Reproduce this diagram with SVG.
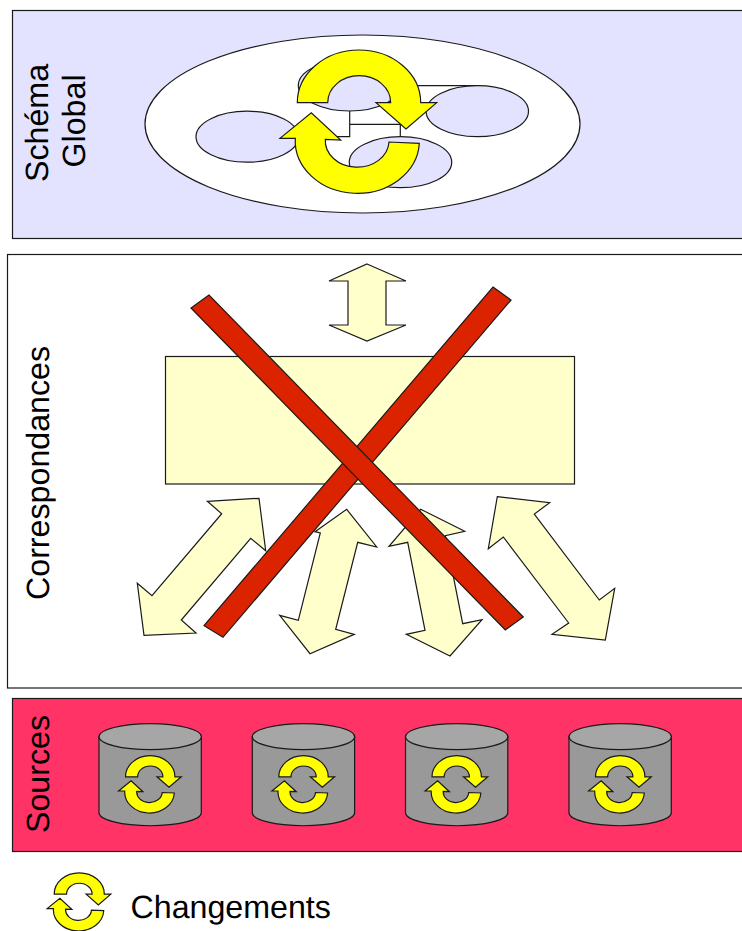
<svg xmlns="http://www.w3.org/2000/svg" xmlns:xlink="http://www.w3.org/1999/xlink" width="742" height="931" viewBox="0 0 742 931">
<style>
.o{stroke:#1a1a1a;stroke-width:1.2;stroke-linejoin:miter}
.y{fill:#ffffcc}
.b{fill:#e3e3ff}
.c{fill:#dc2300}
.t{font-family:"Liberation Sans",Arial,sans-serif;font-size:32.2px;fill:#000;text-rendering:geometricPrecision}
.l{fill:none;stroke:#1a1a1a;stroke-width:1.2}
.cyc{fill:#ffff00;stroke:#1a1a1a;stroke-width:1.2;vector-effect:non-scaling-stroke}
</style>
<defs>
<path id="cycle" class="cyc" d="M297.3 102.7A61.7 52.7 0 0 1 420.7 102.7H436.7L406 129L376 102.7H390.7A31.5 27 0 0 0 327.7 102.7ZM419.3 143.3A62 52.5 0 0 1 295.3 138.3H280L311.3 112.7L340.7 140L325.3 139.3A31.8 26.5 0 0 0 389 142Z"/>
<g id="cyl">
<path class="o" fill="#999999" d="M99 736.7V812.7A51 13 0 0 0 201.3 812.7V736.7Z"/>
<ellipse class="o" fill="#a6a6a6" cx="150.2" cy="736.7" rx="51.2" ry="13"/>
<use xlink:href="#cycle" href="#cycle" transform="translate(6.6 735.7) scale(.4)"/>
</g>
</defs>
<g id="panel-schema">
<rect class="o b" x="12.5" y="10.5" width="740" height="228"/>
<text class="t" transform="translate(47.5 182) rotate(-90)">Schéma</text>
<text class="t" transform="translate(85 167.5) rotate(-90)">Global</text>
</g>
<g id="panel-corresp">
<rect class="o" fill="#fff" x="7.5" y="254.5" width="745" height="433.5"/>
<text class="t" transform="translate(48.5 600) rotate(-90)">Correspondances</text>
</g>
<g id="panel-sources">
<rect class="o" fill="#ff3366" x="12.5" y="698.5" width="740" height="153"/>
<text class="t" transform="translate(49 833) rotate(-90)">Sources</text>
</g>
<g id="global-schema">
<ellipse class="o" fill="#fff" cx="362.5" cy="124" rx="217.5" ry="89"/>
<g id="connectors">
<path class="l" d="M400 85.7H477M349.7 111V136.7H298M349.7 124.3H400.3V136.7"/>
</g>
<ellipse id="e-top" class="o b" cx="349.5" cy="85.5" rx="51.2" ry="25.5"/>
<ellipse id="e-right" class="o b" cx="477.3" cy="111.2" rx="51.2" ry="25.5"/>
<ellipse id="e-left" class="o b" cx="247.2" cy="136.7" rx="51.2" ry="25.5"/>
<ellipse id="e-bottom" class="o b" cx="400.5" cy="162.2" rx="51.2" ry="25.5"/>
<use id="big-cycle" xlink:href="#cycle" href="#cycle"/>
</g>
<g id="mapping">
<polygon id="a-top" class="o y" points="367,264 406,281 386,281 386,325 406,325 367,341 329,325 348,325 348,281 329,281"/>
<rect id="box" class="o y" x="165.5" y="356.5" width="409" height="127.5"/>
<polygon id="a1" class="o y" points="207.3,501.3 259,498.3 265.7,550.7 250.7,538.3 181.3,620 196,633 144,635.3 137.3,583.3 152,595.7 221.7,513.7"/>
<polygon id="a2" class="o y" points="346.7,509.3 376.7,547 357.7,542.3 335.7,629.3 354.3,634.3 310,653.7 279.7,615.3 298.3,620.3 320.3,533 315,531.7"/>
<polygon id="a3" class="o y" points="420.7,509.3 464.7,531.3 445.3,535.7 462.7,623.7 482,619.7 450,656 406.3,634.3 425,630.3 407.7,542.3 389,546.3"/>
<polygon id="a4" class="o y" points="497.3,496.7 549.7,502.7 534.3,514 599.3,600 614.7,588.3 605.3,640 552,634.3 568.7,623 503.3,537 488.3,548.7"/>
<polygon id="cross-a" class="o c" points="493,287 511,300 223,637.3 204,625.7"/>
<polygon id="cross-b" class="o c" points="209,295 191,308 505.3,630 523.3,617"/>
</g>
<g id="db1"><use xlink:href="#cyl" href="#cyl"/></g>
<g id="db2"><use xlink:href="#cyl" href="#cyl" x="153.3"/></g>
<g id="db3"><use xlink:href="#cyl" href="#cyl" x="306.5"/></g>
<g id="db4"><use xlink:href="#cyl" href="#cyl" x="470"/></g>
<g id="legend">
<use xlink:href="#cycle" href="#cycle" transform="translate(-66.5 852.5) scale(.406)"/>
<text class="t" x="130.5" y="918">Changements</text>
</g>
</svg>
